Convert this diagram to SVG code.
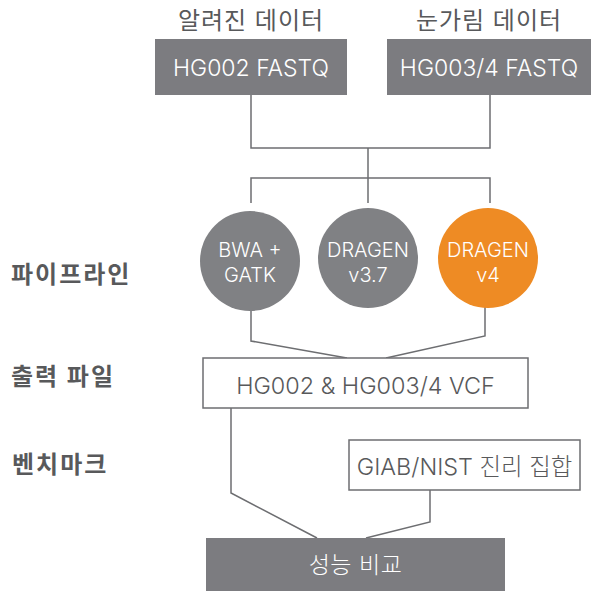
<svg xmlns="http://www.w3.org/2000/svg" width="591" height="591" viewBox="0 0 591 591">
<style>
text{font-family:Inter,"Noto Sans CJK KR",sans-serif;text-anchor:middle;dominant-baseline:central;font-weight:300}
.hdr{font-size:24px;fill:#58595b;letter-spacing:1px;font-weight:400}
.lbl{font-size:24px;font-weight:bold;fill:#58595b;text-anchor:start;letter-spacing:2px}
.wt{font-size:23px;fill:#fff}
.ct{font-size:20px;fill:#fff}
.dk{font-size:23.4px;fill:#58595b}
.fill{fill:#7c7c80}
.circ{fill:#808184}
.orange{fill:#ee8b24}
.box{fill:#fff;stroke:#6d6e71;stroke-width:1.5}
.con{fill:none;stroke:#6d6e71;stroke-width:1.5}
</style>
<text class="hdr" x="251" y="20">알려진 데이터</text>
<text class="hdr" x="489" y="20">눈가림 데이터</text>
<text class="lbl" x="11" y="274">파이프라인</text>
<text class="lbl" x="11" y="376">출력 파일</text>
<text class="lbl" x="12" y="464">벤치마크</text>
<g id="connectors">
<polyline class="con" points="251,95 251,148 490,148 490,95"/>
<line class="con" x1="368" y1="148" x2="368" y2="203"/>
<polyline class="con" points="251,203 251,178 490,178 490,203"/>
<polyline class="con" points="251,310 251,341 347,358"/>
<polyline class="con" points="485,307 485,336 386,358"/>
<polyline class="con" points="231,408 231,493 317,538"/>
<polyline class="con" points="430,490 430,522 366,538"/>
</g>
<g id="hg002">
<rect class="fill" x="155" y="39" width="192" height="56"/>
<text class="wt" x="251" y="68">HG002 FASTQ</text>
</g>
<g id="hg0034">
<rect class="fill" x="387" y="39" width="204" height="56"/>
<text class="wt" x="489" y="68">HG003/4 FASTQ</text>
</g>
<g id="bwa">
<circle class="circ" cx="250" cy="261" r="50"/>
<text class="ct" x="250" y="250">BWA +</text>
<text class="ct" x="250" y="275">GATK</text>
</g>
<g id="dragen37">
<circle class="circ" cx="368" cy="258" r="50"/>
<text class="ct" x="368" y="250">DRAGEN</text>
<text class="ct" x="368" y="275">v3.7</text>
</g>
<g id="dragen4">
<circle class="orange" cx="488" cy="258" r="50"/>
<text class="ct" x="488" y="250">DRAGEN</text>
<text class="ct" x="488" y="275">v4</text>
</g>
<g id="vcf">
<rect class="box" x="203" y="358" width="325" height="50"/>
<text class="dk" x="365.5" y="385">HG002 &amp; HG003/4 VCF</text>
</g>
<g id="giab">
<rect class="box" x="349" y="440" width="231" height="50"/>
<text class="dk" x="464.5" y="466">GIAB/NIST 진리 집합</text>
</g>
<g id="compare">
<rect class="fill" x="206" y="538" width="299" height="53"/>
<text class="wt" x="355.5" y="565" style="letter-spacing:0.5px">성능 비교</text>
</g>
</svg>
